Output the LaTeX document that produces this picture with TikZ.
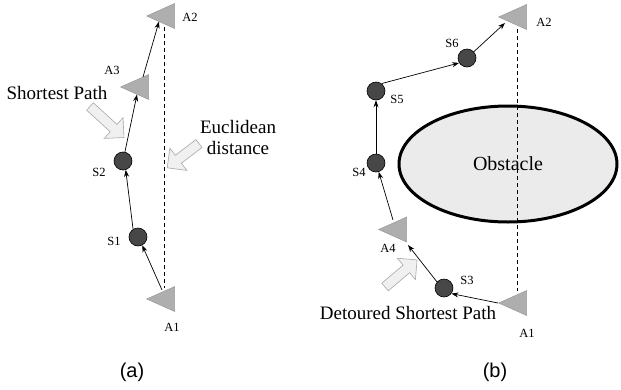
\documentclass[tikz,border=0pt]{standalone}
\usepackage{fontspec}
\setmainfont{Liberation Serif}
\setsansfont{Liberation Sans}
\usetikzlibrary{shapes.geometric,arrows.meta}
\definecolor{trigray}{HTML}{AEAEAE}
\definecolor{triedge}{HTML}{9A9A9A}
\definecolor{sensfill}{HTML}{474747}
\definecolor{arrfill}{HTML}{F0F0F0}
\definecolor{arredge}{HTML}{A8A8A8}
\definecolor{obsfill}{HTML}{EBEBEB}
\newcommand\blockarr[3]{%
  \begin{scope}[shift={#1},rotate=#2]
    \draw[barrow] (0,-5) -- ({#3-14},-5) -- ({#3-14},-14) -- (#3,0) -- ({#3-14},14) -- ({#3-14},5) -- (0,5) -- cycle;
  \end{scope}}
\begin{document}
\begin{tikzpicture}[x=1pt,y=-1pt,
  tri/.style={isosceles triangle, shape border rotate=180, isosceles triangle stretches,
    minimum width=25pt, minimum height=28pt, inner sep=0pt, fill=trigray, draw=triedge,
    line width=0.5pt, anchor=apex},
  sens/.style={circle, minimum size=18pt, inner sep=0pt, fill=sensfill, draw=black, line width=0.6pt},
  lab/.style={font=\fontsize{12.5}{14}\selectfont, inner sep=0pt},
  big/.style={font=\fontsize{19}{21}\selectfont, inner sep=0pt},
  capt/.style={font=\sffamily\fontsize{20}{24}\selectfont, inner sep=0pt},
  barrow/.style={fill=arrfill, draw=arredge, line width=0.6pt},
  conn/.style={-{Stealth[length=7pt,width=5pt]}, line width=0.7pt},
  dline/.style={dash pattern=on 4pt off 3pt, line width=0.7pt}
]
\useasboundingbox (0,0) rectangle (621,389);

% ---------- panel (a) ----------
\node[tri] (A2a) at (146,16) {};
\node[tri] (A3a) at (120,87) {};
\node[tri] (A1a) at (146,299) {};
\node[sens] (S2) at (123,161) {};
\node[sens] (S1) at (138,237) {};

\draw[dline] ([shift={(18,11)}]A2a.apex) -- ([shift={(18,-11)}]A1a.apex);
\draw[conn] ([shift={(16,-9)}]A1a.apex) -- (S1.-63);
\draw[conn] (S1.122) -- (S2.287);
\draw[conn] (S2) -- ([shift={(17,7.5)}]A3a.apex);
\draw[conn] ([shift={(23,-10)}]A3a.apex) -- ([shift={(13,5.5)}]A2a.apex);

\node[lab] (lA2a) at (190,17) {A2};
\node[lab] (lA3a) at (112,70) {A3};
\node[lab] (lS2) at (99,172) {S2};
\node[lab] (lS1) at (114,241) {S1};
\node[lab] (lA1a) at (172,327) {A1};

\node[big] (sp) at (57,93) {Shortest Path};
\node[big, align=center] (ed) at (238,137.5) {Euclidean\\distance};
\blockarr{(90,106.5)}{-42.4}{46}
\blockarr{(199,143.5)}{-142.6}{40}

\node[capt] (capa) at (132,372) {(a)};

% ---------- panel (b) ----------
\node[ellipse, minimum width=218pt, minimum height=116pt, inner sep=0pt, line width=3pt,
  draw=black, fill=obsfill, font=\fontsize{20}{24}\selectfont] (obs) at (508,164) {Obstacle};

\node[tri] (A2b) at (498,17) {};
\node[tri] (A4) at (378,229.5) {};
\node[tri] (A1b) at (498,303) {};
\node[sens] (S6) at (467,58) {};
\node[sens] (S5) at (376,91) {};
\node[sens] (S4) at (376,163) {};
\node[sens] (S3) at (444,288) {};

\draw[dline] ([shift={(19,12)}]A2b.apex) -- ([shift={(19,-12)}]A1b.apex);
\draw[conn] (A1b.apex) -- (S3.-37);
\draw[conn] (S3.139) -- ([shift={(30,15.5)}]A4.apex);
\draw[conn] ([shift={(15,-9.5)}]A4.apex) -- (S4.-73);
\draw[conn] (S4) -- (S5);
\draw[conn] (S5.53) -- (S6.212);
\draw[conn] (S6) -- ([shift={(7,6)}]A2b.apex);

\node[lab] (lA2b) at (544,22) {A2};
\node[lab] (lS6) at (452,43) {S6};
\node[lab] (lS5) at (397,99) {S5};
\node[lab] (lS4) at (359,172) {S4};
\node[lab] (lA4) at (388,248) {A4};
\node[lab] (lS3) at (467,280) {S3};
\node[lab] (lA1b) at (527,333) {A1};

\node[big] (dsp) at (408,313) {Detoured Shortest Path};
\blockarr{(385,287)}{40.2}{42}

\node[capt] (capb) at (495,372) {(b)};
\end{tikzpicture}
\end{document}
